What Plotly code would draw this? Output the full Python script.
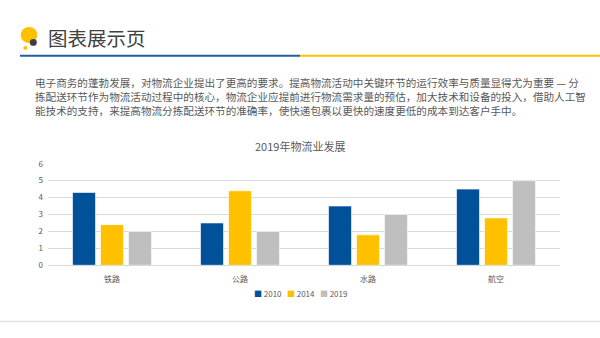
import plotly.graph_objects as go

categories = ["铁路", "公路", "水路", "航空"]
series_names = ["2010", "2014", "2019"]
values_2010 = [4.3, 2.5, 3.5, 4.5]
values_2014 = [2.4, 4.4, 1.8, 2.8]
values_2019 = [2.0, 2.0, 3.0, 5.0]
y_ticks = [0, 1, 2, 3, 4, 5, 6]
colors = ["#00509A", "#FFC000", "#BFBFBF"]

page_title = "图表展示页"
chart_title = "2019年物流业发展"
paragraph_lines = [
    "电子商务的蓬勃发展，对物流企业提出了更高的要求。提高物流活动中关键环节的运行效率与质量显得尤为重要 — 分",
    "拣配送环节作为物流活动过程中的核心，物流企业应提前进行物流需求量的预估，加大技术和设备的投入，借助人工智",
    "能技术的支持，来提高物流分拣配送环节的准确率，使快递包裹以更快的速度更低的成本到达客户手中。",
]

W, H = 600, 338
FONT = "Noto Sans CJK SC, Microsoft YaHei, sans-serif"


def px(x):
    return x / W


def py(y):
    return 1 - y / H


fig = go.Figure()
for name, vals, c in zip(series_names, [values_2010, values_2014, values_2019], colors):
    fig.add_trace(go.Bar(x=categories, y=vals, name=name, marker=dict(color=c, line=dict(color="white", width=0.6)),
                         showlegend=False))

shapes = []
# header logo
shapes.append(dict(type="circle", xref="paper", yref="paper", x0=px(20.7), x1=px(37.3), y0=py(38.3), y1=py(21.7),
                   fillcolor="#FFC000", line=dict(width=0)))
shapes.append(dict(type="circle", xref="paper", yref="paper", x0=px(29.8), x1=px(36.8), y0=py(41.2), y1=py(34.2),
                   fillcolor="#3F3F3F", line=dict(width=0)))
shapes.append(dict(type="circle", xref="paper", yref="paper", x0=px(23.3), x1=px(27.3), y0=py(45.3), y1=py(41.3),
                   fillcolor="#FFC000", line=dict(width=0)))
# header rule
shapes.append(dict(type="line", xref="paper", yref="paper", x0=px(20), x1=px(300), y0=py(51.5), y1=py(51.5),
                   line=dict(color="#1F5FA0", width=2)))
shapes.append(dict(type="line", xref="paper", yref="paper", x0=px(300), x1=1, y0=py(51.5), y1=py(51.5),
                   line=dict(color="#FFC000", width=2)))
# footer rule
shapes.append(dict(type="line", xref="paper", yref="paper", x0=0, x1=1, y0=py(326), y1=py(326),
                   line=dict(color="#E0E0E0", width=1.5)))

annotations = []
annotations.append(dict(text=page_title, xref="paper", yref="paper", x=px(46), y=py(32.5), xanchor="left",
                        yanchor="middle", showarrow=False, font=dict(family=FONT, size=19.5, color="#404040")))
for i, line in enumerate(paragraph_lines):
    annotations.append(dict(text=line, xref="paper", yref="paper", x=px(33), y=py(79.5 + 14 * i), xanchor="left",
                            yanchor="middle", showarrow=False, font=dict(family=FONT, size=10.6, color="#595959")))
annotations.append(dict(text=chart_title, xref="paper", yref="paper", x=0.5, y=py(145), xanchor="center",
                        yanchor="middle", showarrow=False, font=dict(family=FONT, size=11, color="#595959")))
legend_text = "&nbsp;&nbsp;&nbsp;".join(
    f"<span style='color:{c}'>■</span> {n}" for n, c in zip(series_names, colors))
annotations.append(dict(text=legend_text, xref="paper", yref="paper", x=0.5, y=py(297), xanchor="center",
                        yanchor="middle", showarrow=False, font=dict(family=FONT, size=8, color="#595959")))

fig.update_layout(
    width=W, height=H, autosize=False,
    margin=dict(l=0, r=0, t=0, b=0),
    paper_bgcolor="white", plot_bgcolor="white",
    barmode="group", bargap=0.344, bargroupgap=0.18,
    shapes=shapes, annotations=annotations,
    font=dict(family=FONT, size=8, color="#595959"),
    xaxis=dict(domain=[px(48), px(560)], showgrid=False, showline=False, ticks="",
               tickfont=dict(size=8, color="#595959"), anchor="y", ticklabelstandoff=8),
    yaxis=dict(domain=[py(268), py(163)], range=[0, 6], tickvals=y_ticks, showgrid=True, gridcolor="#D9D9D9",
               gridwidth=1, zeroline=True, zerolinecolor="#D9D9D9", zerolinewidth=1, showline=False,
               tickfont=dict(size=8, color="#595959"), ticklabelstandoff=4),
)

fig.write_html("out.html")
